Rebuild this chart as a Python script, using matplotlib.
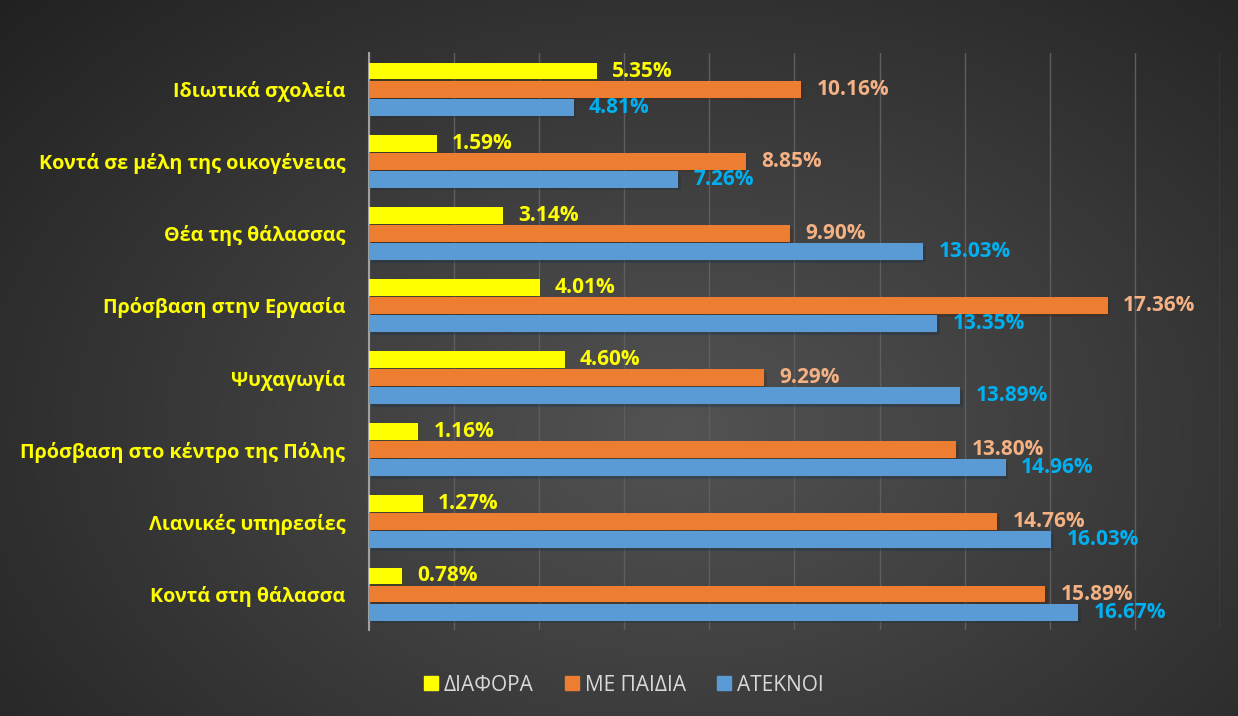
import numpy as np
import matplotlib.pyplot as plt
from matplotlib.patches import Patch
import matplotlib.patheffects as pe

categories = ["Ιδιωτικά σχολεία", "Κοντά σε μέλη της οικογένειας", "Θέα της θάλασσας",
              "Πρόσβαση στην Εργασία", "Ψυχαγωγία", "Πρόσβαση στο κέντρο της Πόλης",
              "Λιανικές υπηρεσίες", "Κοντά στη θάλασσα"]
diafora = [5.35, 1.59, 3.14, 4.01, 4.60, 1.16, 1.27, 0.78]
me_paidia = [10.16, 8.85, 9.90, 17.36, 9.29, 13.80, 14.76, 15.89]
ateknoi = [4.81, 7.26, 13.03, 13.35, 13.89, 14.96, 16.03, 16.67]
series_names = ["ΔΙΑΦΟΡΑ", "ΜΕ ΠΑΙΔΙΑ", "ΑΤΕΚΝΟΙ"]

plt.rcParams['font.family'] = ['Open Sans', 'DejaVu Sans']

fig = plt.figure(figsize=(12.38, 7.16), dpi=100)

# radial dark gradient background
bg = fig.add_axes([0, 0, 1, 1], zorder=-10)
yy, xx = np.mgrid[0:716, 0:1238]
r = np.sqrt(((xx - 680) / 900.0) ** 2 + ((yy - 430) / 620.0) ** 2)
shade = np.clip(0.325 - 0.19 * r, 0.13, 0.325)
bg.imshow(np.dstack([shade] * 3), aspect='auto', extent=[0, 1, 0, 1])
bg.axis('off')

ax = fig.add_axes([0.298, 0.120, 0.6875, 0.806])
ax.set_facecolor('none')

y = np.arange(len(categories))
h = 0.235
colors = ['#FFFF00', '#ED7D31', '#5B9BD5']
label_colors = ['#FFFF00', '#F4B183', '#00B0F0']
shadow = [pe.SimplePatchShadow(offset=(2, -2), alpha=0.35), pe.Normal()]

for k, (vals, off) in enumerate(zip([diafora, me_paidia, ateknoi], [-0.25, 0, 0.25])):
    bars = ax.barh(y + off, vals, height=h, color=colors[k], zorder=3)
    for b in bars:
        b.set_path_effects(shadow)
    for yi, v in zip(y + off, vals):
        ax.annotate(f"{v:.2f}%", (v, yi), xytext=(11, 0), textcoords='offset points',
                    va='center', ha='left', color=label_colors[k],
                    fontsize=15, fontweight='bold', zorder=4)

ax.set_xlim(0, 20)
ax.set_ylim(len(categories) - 0.5, -0.5)
ax.set_xticks(np.arange(0, 21, 2))
ax.xaxis.grid(True, color='#5e5e5e', linewidth=1)
ax.set_axisbelow(True)
ax.tick_params(axis='x', length=0, labelbottom=False)
ax.tick_params(axis='y', length=0, pad=17)
ax.set_yticks(y)
ax.set_yticklabels(categories, color='#FFFF00', fontsize=14.2, fontweight='bold')
for s in ['top', 'right', 'bottom']:
    ax.spines[s].set_visible(False)
ax.spines['left'].set_color('#a0a0a0')
ax.spines['left'].set_linewidth(1.5)

handles = [Patch(color=c, label=n) for c, n in zip(colors, series_names)]
fig.legend(handles=handles, loc='center', bbox_to_anchor=(0.504, 0.043), ncol=3,
           frameon=False, fontsize=15, labelcolor='#D9D9D9',
           handlelength=0.65, handleheight=0.65, handletextpad=0.3, columnspacing=1.5)

fig.savefig('out.png', dpi=100)
